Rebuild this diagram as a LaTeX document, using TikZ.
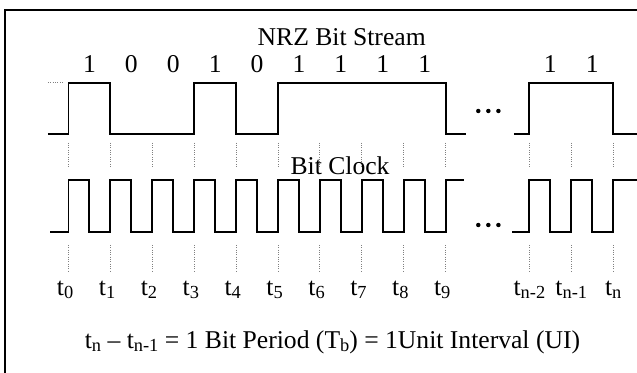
\documentclass[tikz,border=0pt]{standalone}
\usepackage{fontspec}
\setmainfont{Liberation Serif}
\newcommand{\tsub}[1]{\raisebox{-2.2pt}{\fontsize{12.5}{13}\selectfont #1}}
\begin{document}
\begin{tikzpicture}[
    wave/.style={line width=1.35pt},
    tickline/.style={densely dotted, gray, line width=0.6pt},
    lbl/.style={anchor=base, inner sep=0pt, font=\fontsize{17.4}{20}\selectfont}
  ]
        \useasboundingbox (-1.635,-3.358) rectangle (13.568,5.544);
        \draw[line width=1pt] (-1.515,-3.6) -- (-1.515,5.31) -- (13.8,5.31);
        %
        \draw (6.52,4.46) node[lbl] (nrztitle) {NRZ Bit Stream};
        \draw (0.5,3.82) node[lbl] (bitA) {1};
        \draw (1.5,3.82) node[lbl] (bitB) {0};
        \draw (2.5,3.82) node[lbl] (bitC) {0};
        \draw (3.5,3.82) node[lbl] (bitD) {1};
        \draw (4.5,3.82) node[lbl] (bitE) {0};
        \draw (5.5,3.82) node[lbl] (bitF) {1};
        \draw (6.5,3.82) node[lbl] (bitG) {1};
        \draw (7.5,3.82) node[lbl] (bitH) {1};
        \draw (8.5,3.82) node[lbl] (bitI) {1};
        \draw (11.5,3.82) node[lbl] (bitY) {1};
        \draw (12.5,3.82) node[lbl] (bitZ) {1};
        %
        \draw[tickline] (-0.49,3.57) -- (-0.13,3.57);
        \draw[wave] (-0.49,2.34) -- (0,2.34) -- (0,3.57) -- (1,3.57) -- (1,2.34) -- (3,2.34)
            -- (3,3.57) -- (4,3.57) -- (4,2.34) -- (5,2.34) -- (5,3.57) -- (9,3.57)
            -- (9,2.34) -- (9.48,2.34);
        \draw[wave] (10.63,2.34) -- (11,2.34) -- (11,3.57) -- (13,3.57) -- (13,2.34) -- (13.7,2.34);
        \fill (9.78,2.895) circle(0.053) (10.02,2.895) circle(0.053) (10.26,2.895) circle(0.053);
        %
        \draw (6.48,1.37) node[lbl] (clktitle) {Bit Clock};
        \draw[wave] (-0.44,0) -- (0,0) -- (0,1.25) -- (0.5,1.25) -- (0.5,0) -- (1,0) -- (1,1.25)
            -- (1.5,1.25) -- (1.5,0) -- (2,0) -- (2,1.25) -- (2.5,1.25) -- (2.5,0) -- (3,0)
            -- (3,1.25) -- (3.5,1.25) -- (3.5,0) -- (4,0) -- (4,1.25) -- (4.5,1.25) -- (4.5,0)
            -- (5,0) -- (5,1.25) -- (5.5,1.25) -- (5.5,0) -- (6,0) -- (6,1.25) -- (6.5,1.25)
            -- (6.5,0) -- (7,0) -- (7,1.25) -- (7.5,1.25) -- (7.5,0) -- (8,0) -- (8,1.25)
            -- (8.5,1.25) -- (8.5,0) -- (9,0) -- (9,1.25) -- (9.44,1.25);
        \draw[wave] (10.59,0) -- (11,0) -- (11,1.25) -- (11.5,1.25) -- (11.5,0) -- (12,0)
            -- (12,1.25) -- (12.5,1.25) -- (12.5,0) -- (13,0) -- (13,1.25) -- (13.7,1.25);
        \fill (9.78,0.174) circle(0.053) (10.02,0.174) circle(0.053) (10.26,0.174) circle(0.053);
        %
        \draw[tickline] (0,2.14) -- (0,1.53);   \draw[tickline] (0,-0.30) -- (0,-0.92);
        \draw[tickline] (1,2.14) -- (1,1.53);   \draw[tickline] (1,-0.30) -- (1,-0.92);
        \draw[tickline] (2,2.14) -- (2,1.53);   \draw[tickline] (2,-0.30) -- (2,-0.92);
        \draw[tickline] (3,2.14) -- (3,1.53);   \draw[tickline] (3,-0.30) -- (3,-0.92);
        \draw[tickline] (4,2.14) -- (4,1.53);   \draw[tickline] (4,-0.30) -- (4,-0.92);
        \draw[tickline] (5,2.14) -- (5,1.53);   \draw[tickline] (5,-0.30) -- (5,-0.92);
        \draw[tickline] (6,2.14) -- (6,1.53);   \draw[tickline] (6,-0.30) -- (6,-0.92);
        \draw[tickline] (7,2.14) -- (7,1.53);   \draw[tickline] (7,-0.30) -- (7,-0.92);
        \draw[tickline] (8,2.14) -- (8,1.53);   \draw[tickline] (8,-0.30) -- (8,-0.92);
        \draw[tickline] (9,2.14) -- (9,1.53);   \draw[tickline] (9,-0.30) -- (9,-0.92);
        \draw[tickline] (11,2.14) -- (11,1.53); \draw[tickline] (11,-0.30) -- (11,-0.92);
        \draw[tickline] (12,2.14) -- (12,1.53); \draw[tickline] (12,-0.30) -- (12,-0.92);
        \draw[tickline] (13,2.14) -- (13,1.53); \draw[tickline] (13,-0.30) -- (13,-0.92);
        %
        \draw (-0.08,-1.50) node[lbl] (tzero) {t\tsub{0}};
        \draw (0.92,-1.50) node[lbl] (tone) {t\tsub{1}};
        \draw (1.92,-1.50) node[lbl] (ttwo) {t\tsub{2}};
        \draw (2.92,-1.50) node[lbl] (tthree) {t\tsub{3}};
        \draw (3.92,-1.50) node[lbl] (tfour) {t\tsub{4}};
        \draw (4.92,-1.50) node[lbl] (tfive) {t\tsub{5}};
        \draw (5.92,-1.50) node[lbl] (tsix) {t\tsub{6}};
        \draw (6.92,-1.50) node[lbl] (tseven) {t\tsub{7}};
        \draw (7.92,-1.50) node[lbl] (teight) {t\tsub{8}};
        \draw (8.92,-1.50) node[lbl] (tnine) {t\tsub{9}};
        \draw (11,-1.50) node[lbl] (tnmtwo) {t\tsub{n-2}};
        \draw (12,-1.50) node[lbl] (tnmone) {t\tsub{n-1}};
        \draw (13,-1.50) node[lbl] (tn) {t\tsub{n}};
        %
        \draw (6.30,-2.77) node[lbl] (period) {t\tsub{n} -- t\tsub{n-1} = 1 Bit Period (T\tsub{b}) = 1Unit Interval (UI)};
    \end{tikzpicture}
\end{document}
